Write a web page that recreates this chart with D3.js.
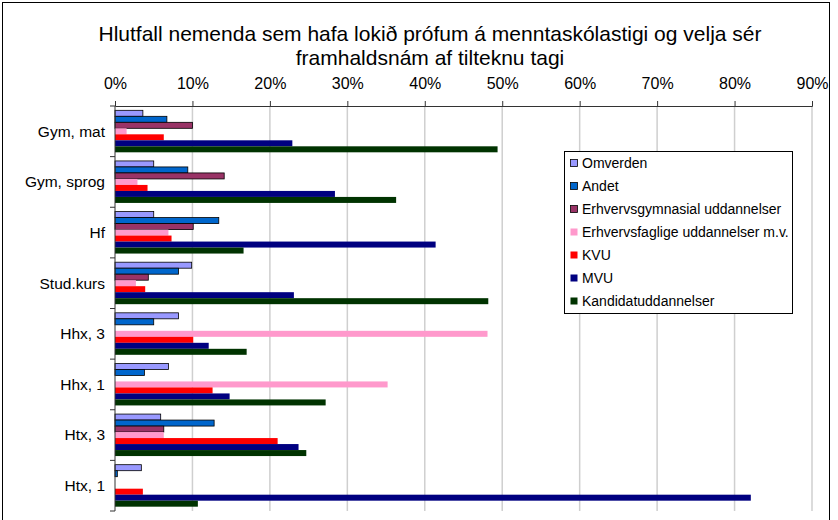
<!DOCTYPE html>
<html lang="is">
<head>
  <meta charset="UTF-8" />
  <title>Hlutfall nemenda</title>
  <script src="https://d3js.org/d3.v7.min.js"></script>
  <style>
    body { margin: 0; background: #fff; }
    svg { display: block; font-family: "Liberation Sans", Arial, sans-serif; }
  </style>
</head>
<body>
<svg id="chart" width="838" height="520"></svg>
<script>
  const categories = ["Gym, mat", "Gym, sprog", "Hf", "Stud.kurs", "Hhx, 3", "Hhx, 1", "Htx, 3", "Htx, 1"];
  const seriesNames = ["Omverden", "Andet", "Erhvervsgymnasial uddannelser",
    "Erhvervsfaglige uddannelser m.v.", "KVU", "MVU", "Kandidatuddannelser"];

  // percent values, one array per series, in category order
  const omverden        = [3.6, 5.0, 5.0, 9.9, 8.2, 6.9, 5.9, 3.4];
  const andet           = [6.7, 9.4, 13.4, 8.2, 5.0, 3.8, 12.8, 0.3];
  const erhvervsgym     = [10.0, 14.1, 10.1, 4.3, 0, 0, 6.3, 0];
  const erhvervsfaglige = [1.5, 2.9, 6.9, 2.7, 48.1, 35.2, 6.3, 0];
  const kvu             = [6.3, 4.2, 7.3, 3.9, 10.1, 12.6, 21.0, 3.6];
  const mvu             = [22.9, 28.4, 41.4, 23.1, 12.1, 14.8, 23.7, 82.1];
  const kandidat        = [49.4, 36.3, 16.6, 48.2, 17.0, 27.2, 24.7, 10.7];

  const tickValues = [0, 10, 20, 30, 40, 50, 60, 70, 80, 90];

  const seriesValues = [omverden, andet, erhvervsgym, erhvervsfaglige, kvu, mvu, kandidat];
  const colors = ["#9999FF", "#0066CC", "#993366", "#FF99CC", "#FF0000", "#000080", "#003300"];
  const outlined = [true, true, true, false, false, false, false];

  const svg = d3.select("#chart");

  // outer chart frame
  svg.append("rect")
    .attr("x", 2.5).attr("y", 2.5)
    .attr("width", 827).attr("height", 530)
    .attr("fill", "none").attr("stroke", "#000").attr("stroke-width", 1);

  const plotLeft = 115, plotRight = 812, plotTop = 106, plotBottom = 511;

  const x = d3.scaleLinear().domain([0, 90]).range([plotLeft, plotRight]);
  const y0 = d3.scaleBand().domain(categories).range([plotTop, plotBottom]).padding(0);
  const y1 = d3.scaleBand().domain(d3.range(seriesNames.length))
    .range([0, y0.bandwidth()]).paddingOuter(0.72);

  // title
  const title = svg.append("text")
    .attr("x", 430).attr("text-anchor", "middle")
    .attr("font-size", 21).attr("fill", "#000");
  title.append("tspan").attr("x", 430).attr("y", 41)
    .text("Hlutfall nemenda sem hafa lokið prófum á menntaskólastigi og velja sér");
  title.append("tspan").attr("x", 430).attr("y", 65)
    .text("framhaldsnám af tilteknu tagi");

  // gridlines
  svg.append("g")
    .selectAll("line")
    .data(tickValues.slice(1))
    .enter().append("line")
    .attr("x1", d => x(d)).attr("x2", d => x(d))
    .attr("y1", plotTop).attr("y2", plotBottom)
    .attr("stroke", "#cfcfcf").attr("stroke-width", 1.5);

  // bars
  const groups = svg.append("g")
    .selectAll("g")
    .data(categories)
    .enter().append("g")
    .attr("transform", d => `translate(0,${y0(d)})`);

  groups.selectAll("rect")
    .data((c, ci) => seriesValues.map((vals, si) => ({ si, v: vals[ci] })).filter(d => d.v > 0))
    .enter().append("rect")
    .attr("x", x(0))
    .attr("y", d => y1(d.si))
    .attr("width", d => x(d.v) - x(0))
    .attr("height", y1.bandwidth())
    .attr("fill", d => colors[d.si])
    .attr("stroke", d => outlined[d.si] ? "#000" : "none")
    .attr("stroke-width", 0.8);

  // top axis
  const xAxis = d3.axisTop(x)
    .tickValues(tickValues)
    .tickFormat(d => d + "%")
    .tickSize(5)
    .tickPadding(12);
  const gx = svg.append("g")
    .attr("transform", `translate(0,${plotTop})`)
    .call(xAxis);
  gx.select(".domain").attr("stroke", "#333");
  gx.selectAll(".tick line").attr("stroke", "#333");
  gx.selectAll("text").attr("font-size", 16).attr("fill", "#000")
    .attr("font-family", "'Liberation Sans', Arial, sans-serif");

  // left axis: ticks at band boundaries
  const gy = svg.append("g");
  gy.append("line")
    .attr("x1", plotLeft).attr("x2", plotLeft).attr("y1", plotTop).attr("y2", plotBottom)
    .attr("stroke", "#333");
  gy.selectAll("line.tk")
    .data(categories.map(c => y0(c)).concat([plotBottom]))
    .enter().append("line").attr("class", "tk")
    .attr("x1", plotLeft - 5).attr("x2", plotLeft)
    .attr("y1", d => d).attr("y2", d => d)
    .attr("stroke", "#333");
  gy.selectAll("text")
    .data(categories)
    .enter().append("text")
    .attr("x", 105)
    .attr("y", d => y0(d) + y0.bandwidth() / 2)
    .attr("dy", "0.35em")
    .attr("text-anchor", "end")
    .attr("font-size", 15.5)
    .text(d => d);

  // legend
  const legend = svg.append("g").attr("transform", "translate(564,151)");
  legend.append("rect")
    .attr("x", 0.5).attr("y", 0.5).attr("width", 228).attr("height", 162)
    .attr("fill", "#fff").attr("stroke", "#000");
  const items = legend.selectAll("g.item")
    .data(seriesNames)
    .enter().append("g").attr("class", "item")
    .attr("transform", (d, i) => `translate(6,${12 + i * 23})`);
  items.append("rect")
    .attr("x", 0.5).attr("y", -3.5).attr("width", 7).attr("height", 7)
    .attr("fill", (d, i) => colors[i])
    .attr("stroke", (d, i) => outlined[i] ? "#000" : "none")
    .attr("stroke-width", 0.8);
  items.append("text")
    .attr("x", 12).attr("y", 0).attr("dy", "0.35em")
    .attr("font-size", 14)
    .text(d => d);
</script>
</body>
</html>
